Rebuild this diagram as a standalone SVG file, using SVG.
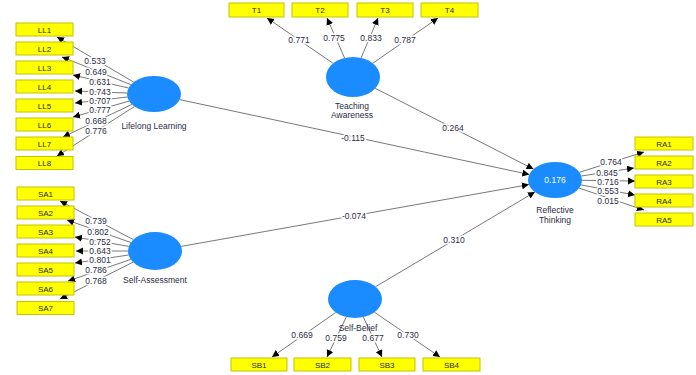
<svg xmlns="http://www.w3.org/2000/svg" width="696" height="375" viewBox="0 0 696 375">
<defs>
<marker id="ah" markerUnits="userSpaceOnUse" markerWidth="8" markerHeight="8" refX="7" refY="3.5" orient="auto">
<path d="M0,0 L7,3.5 L0,7 Z" fill="#000"/>
</marker>
<style>
.box{fill:#ffff00;stroke:#c4c400;stroke-width:1}
.bt{font-family:"Liberation Sans",Arial,sans-serif;font-size:8px;fill:#2a2a33;text-anchor:middle}
.lv{fill:#1a8cff}
.lt{font-family:"Liberation Sans",Arial,sans-serif;font-size:8.5px;fill:#2a2a44;text-anchor:middle}
.e{stroke:#555;stroke-width:0.8;fill:none;marker-end:url(#ah)}
.w{font-family:"Liberation Sans",Arial,sans-serif;font-size:8.5px;fill:#2a2a44;text-anchor:middle;stroke:#fff;stroke-width:3;paint-order:stroke;stroke-linejoin:round}
</style>
</defs>
<rect width="696" height="375" fill="#fff"/>
<g id="connectors">
<line class="e" x1="133.7" y1="82.1" x2="57" y2="37"/>
<line class="e" x1="130.9" y1="84.7" x2="62" y2="57"/>
<line class="e" x1="128.5" y1="88" x2="73" y2="75"/>
<line class="e" x1="127" y1="93" x2="75" y2="91"/>
<line class="e" x1="127.4" y1="97" x2="75" y2="103"/>
<line class="e" x1="129.2" y1="101.1" x2="73" y2="117"/>
<line class="e" x1="132" y1="104.4" x2="63" y2="137"/>
<line class="e" x1="134.5" y1="106.5" x2="57" y2="156"/>
<line class="e" x1="133.4" y1="239.6" x2="60" y2="201"/>
<line class="e" x1="130.9" y1="242.5" x2="67" y2="220"/>
<line class="e" x1="128.8" y1="246.4" x2="75" y2="237"/>
<line class="e" x1="128" y1="251" x2="76" y2="251"/>
<line class="e" x1="128.6" y1="255" x2="75" y2="263"/>
<line class="e" x1="130.8" y1="259.4" x2="68" y2="281"/>
<line class="e" x1="133.1" y1="262.1" x2="60" y2="299"/>
<line class="e" x1="333.2" y1="63.4" x2="267" y2="18"/>
<line class="e" x1="344.6" y1="58" x2="327" y2="18"/>
<line class="e" x1="361.1" y1="57.9" x2="378" y2="18"/>
<line class="e" x1="372.7" y1="63.3" x2="438" y2="18"/>
<line class="e" x1="579.4" y1="172.3" x2="644" y2="152"/>
<line class="e" x1="581.3" y1="176" x2="634" y2="168"/>
<line class="e" x1="582" y1="180.3" x2="635" y2="181"/>
<line class="e" x1="581" y1="184.9" x2="635" y2="195"/>
<line class="e" x1="579.1" y1="188.1" x2="644" y2="210"/>
<line class="e" x1="335.8" y1="312.4" x2="272" y2="357"/>
<line class="e" x1="346.3" y1="317" x2="327" y2="357"/>
<line class="e" x1="363.4" y1="317.1" x2="382" y2="357"/>
<line class="e" x1="374.4" y1="312.2" x2="440" y2="357"/>
<line class="e" x1="179.7" y1="99.6" x2="529.3" y2="174.5"/>
<line class="e" x1="375.2" y1="88.3" x2="533.5" y2="169.1"/>
<line class="e" x1="181.2" y1="246.4" x2="528.9" y2="184.6"/>
<line class="e" x1="375.6" y1="286.7" x2="534.9" y2="192"/>
</g>
<g id="edge-labels">
<text class="w" x="95" y="64">0.533</text>
<text class="w" x="96" y="75">0.649</text>
<text class="w" x="100" y="85">0.631</text>
<text class="w" x="100" y="95">0.743</text>
<text class="w" x="100" y="104">0.707</text>
<text class="w" x="100" y="113">0.777</text>
<text class="w" x="96" y="124">0.668</text>
<text class="w" x="96" y="134">0.776</text>
<text class="w" x="96" y="223.5">0.739</text>
<text class="w" x="98" y="235">0.802</text>
<text class="w" x="100" y="244.5">0.752</text>
<text class="w" x="100" y="254">0.643</text>
<text class="w" x="100" y="263">0.801</text>
<text class="w" x="96" y="273">0.786</text>
<text class="w" x="96" y="284">0.768</text>
<text class="w" x="299" y="43">0.771</text>
<text class="w" x="334" y="41">0.775</text>
<text class="w" x="371" y="41">0.833</text>
<text class="w" x="405" y="43">0.787</text>
<text class="w" x="611" y="165">0.764</text>
<text class="w" x="607" y="175.5">0.845</text>
<text class="w" x="608" y="184.5">0.716</text>
<text class="w" x="608" y="194">0.553</text>
<text class="w" x="608" y="204">0.015</text>
<text class="w" x="302" y="338">0.669</text>
<text class="w" x="336" y="341">0.759</text>
<text class="w" x="373" y="341">0.677</text>
<text class="w" x="408" y="338">0.730</text>
<text class="w" x="353" y="141">-0.115</text>
<text class="w" x="453" y="131">0.264</text>
<text class="w" x="354" y="218.5">-0.074</text>
<text class="w" x="454" y="243">0.310</text>
</g>
<g id="LL1"><rect class="box" x="16" y="23" width="57" height="13"/><text class="bt" x="44.5" y="32.5">LL1</text></g>
<g id="LL2"><rect class="box" x="16" y="42" width="57" height="13"/><text class="bt" x="44.5" y="51.5">LL2</text></g>
<g id="LL3"><rect class="box" x="16" y="61" width="57" height="13"/><text class="bt" x="44.5" y="70.5">LL3</text></g>
<g id="LL4"><rect class="box" x="16" y="80" width="57" height="13"/><text class="bt" x="44.5" y="89.5">LL4</text></g>
<g id="LL5"><rect class="box" x="16" y="99" width="57" height="13"/><text class="bt" x="44.5" y="108.5">LL5</text></g>
<g id="LL6"><rect class="box" x="16" y="118" width="57" height="13"/><text class="bt" x="44.5" y="127.5">LL6</text></g>
<g id="LL7"><rect class="box" x="16" y="137" width="57" height="13"/><text class="bt" x="44.5" y="146.5">LL7</text></g>
<g id="LL8"><rect class="box" x="16" y="156.5" width="57" height="13"/><text class="bt" x="44.5" y="166">LL8</text></g>
<g id="SA1"><rect class="box" x="17" y="187" width="57" height="13"/><text class="bt" x="45.5" y="196.5">SA1</text></g>
<g id="SA2"><rect class="box" x="17" y="206" width="57" height="13"/><text class="bt" x="45.5" y="215.5">SA2</text></g>
<g id="SA3"><rect class="box" x="17" y="225" width="57" height="13"/><text class="bt" x="45.5" y="234.5">SA3</text></g>
<g id="SA4"><rect class="box" x="17" y="244" width="57" height="13"/><text class="bt" x="45.5" y="253.5">SA4</text></g>
<g id="SA5"><rect class="box" x="17" y="263" width="57" height="13"/><text class="bt" x="45.5" y="272.5">SA5</text></g>
<g id="SA6"><rect class="box" x="17" y="282" width="57" height="13"/><text class="bt" x="45.5" y="291.5">SA6</text></g>
<g id="SA7"><rect class="box" x="17" y="301.5" width="57" height="13"/><text class="bt" x="45.5" y="311">SA7</text></g>
<g id="T1"><rect class="box" x="229" y="3" width="55" height="14"/><text class="bt" x="256.5" y="13">T1</text></g>
<g id="T2"><rect class="box" x="292" y="3" width="56" height="14"/><text class="bt" x="320" y="13">T2</text></g>
<g id="T3"><rect class="box" x="357" y="3" width="56" height="14"/><text class="bt" x="385" y="13">T3</text></g>
<g id="T4"><rect class="box" x="421" y="3" width="57" height="14"/><text class="bt" x="449.5" y="13">T4</text></g>
<g id="RA1"><rect class="box" x="635" y="137" width="58" height="13"/><text class="bt" x="664" y="146.5">RA1</text></g>
<g id="RA2"><rect class="box" x="635" y="156" width="58" height="13"/><text class="bt" x="664" y="165.5">RA2</text></g>
<g id="RA3"><rect class="box" x="635" y="175" width="58" height="13"/><text class="bt" x="664" y="184.5">RA3</text></g>
<g id="RA4"><rect class="box" x="635" y="194" width="58" height="13"/><text class="bt" x="664" y="203.5">RA4</text></g>
<g id="RA5"><rect class="box" x="635" y="213" width="58" height="13"/><text class="bt" x="664" y="222.5">RA5</text></g>
<g id="SB1"><rect class="box" x="231" y="358" width="56" height="13"/><text class="bt" x="259" y="367.5">SB1</text></g>
<g id="SB2"><rect class="box" x="294" y="358" width="57" height="13"/><text class="bt" x="322.5" y="367.5">SB2</text></g>
<g id="SB3"><rect class="box" x="359" y="358" width="56" height="13"/><text class="bt" x="387" y="367.5">SB3</text></g>
<g id="SB4"><rect class="box" x="423" y="358" width="57" height="13"/><text class="bt" x="451.5" y="367.5">SB4</text></g>
<g id="LifelongLearning"><ellipse class="lv" cx="154" cy="94" rx="27" ry="18"/><text class="lt" x="154" y="129">Lifelong Learning</text></g>
<g id="SelfAssessment"><ellipse class="lv" cx="155" cy="251" rx="27" ry="19"/><text class="lt" x="155" y="283">Self-Assessment</text></g>
<g id="TeachingAwareness"><ellipse class="lv" cx="353" cy="77" rx="27" ry="20"/><text class="lt" x="352" y="108.5">Teaching</text><text class="lt" x="352" y="118">Awareness</text></g>
<g id="ReflectiveThinking"><ellipse class="lv" cx="555" cy="180" rx="27" ry="18"/><text class="lt" x="555" y="183" style="fill:#fff">0.176</text><text class="lt" x="555" y="213">Reflective</text><text class="lt" x="555" y="222.5">Thinking</text></g>
<g id="SelfBelief"><ellipse class="lv" cx="355" cy="299" rx="27" ry="19"/><text class="lt" x="358" y="331">Self-Belief</text></g>
</svg>
